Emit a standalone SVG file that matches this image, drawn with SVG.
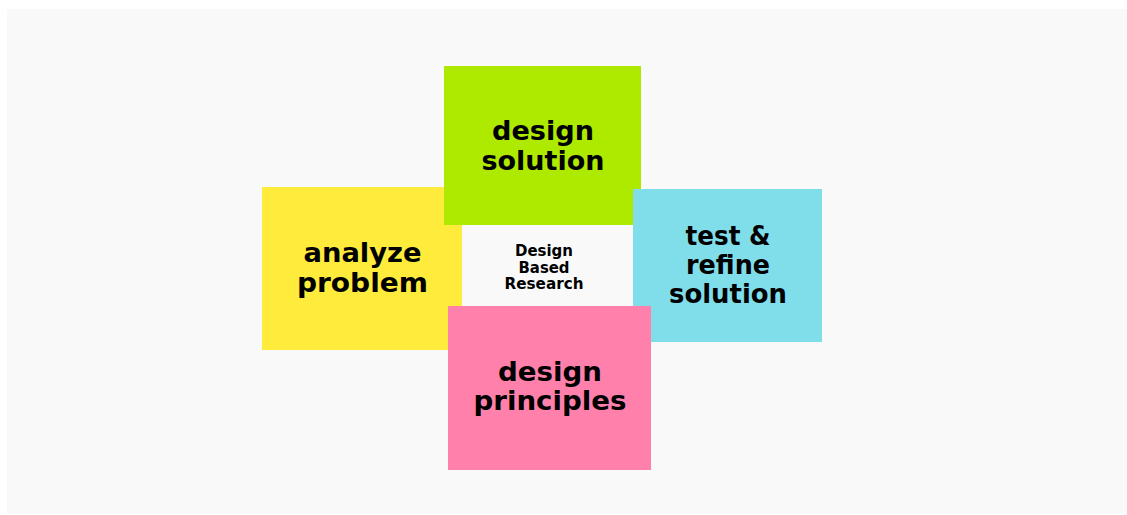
<svg xmlns="http://www.w3.org/2000/svg" width="1127" height="515" viewBox="0 0 1127 515">
  <style>
    .lbl { font-family: "DejaVu Sans", "Liberation Sans", sans-serif; font-weight: 700; fill: #000; text-anchor: middle; }
    .big { font-size: 27px; }
    .small { font-size: 15px; }
  </style>
  <rect x="0" y="0" width="1127" height="515" fill="#ffffff"/>
  <rect x="7" y="9" width="1120" height="505" fill="#f9f9f9"/>
  <g id="connectors"/>
  <g id="analyze-problem">
    <rect x="262" y="187" width="200" height="163" fill="#ffeb3b"/>
    <text class="lbl big" x="362.5" y="262" textLength="118" lengthAdjust="spacingAndGlyphs">analyze</text>
    <text class="lbl big" x="362.5" y="292" textLength="131" lengthAdjust="spacingAndGlyphs">problem</text>
  </g>
  <g id="design-solution">
    <rect x="444" y="66" width="197" height="159" fill="#aeea00"/>
    <text class="lbl big" x="543" y="140" textLength="102" lengthAdjust="spacingAndGlyphs">design</text>
    <text class="lbl big" x="543" y="170" textLength="123" lengthAdjust="spacingAndGlyphs">solution</text>
  </g>
  <g id="test-refine-solution">
    <rect x="633" y="189" width="189" height="153" fill="#80deea"/>
    <text class="lbl big" x="728" y="244.5" textLength="85" lengthAdjust="spacingAndGlyphs">test &amp;</text>
    <text class="lbl big" x="728" y="273.5" textLength="84" lengthAdjust="spacingAndGlyphs">refine</text>
    <text class="lbl big" x="728" y="302.5" textLength="118" lengthAdjust="spacingAndGlyphs">solution</text>
  </g>
  <g id="design-principles">
    <rect x="448" y="306" width="203" height="164" fill="#ff80ab"/>
    <text class="lbl big" x="550" y="381" textLength="104" lengthAdjust="spacingAndGlyphs">design</text>
    <text class="lbl big" x="550" y="410" textLength="153" lengthAdjust="spacingAndGlyphs">principles</text>
  </g>
  <g id="design-based-research">
    <text class="lbl small" x="544" y="256" textLength="58" lengthAdjust="spacingAndGlyphs">Design</text>
    <text class="lbl small" x="544" y="272.5" textLength="51" lengthAdjust="spacingAndGlyphs">Based</text>
    <text class="lbl small" x="544" y="289" textLength="79" lengthAdjust="spacingAndGlyphs">Research</text>
  </g>
</svg>
